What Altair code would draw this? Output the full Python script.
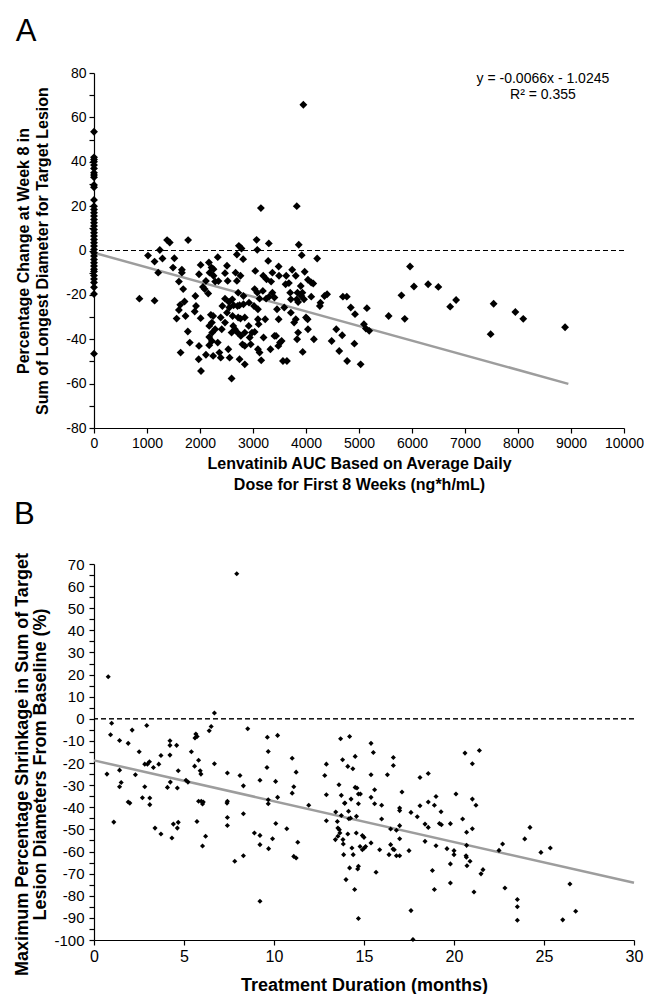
import altair as alt
import pandas as pd

# ---------------- Panel A data ----------------
a_x = [857, 1143, 1019, 1143, 1242, 1211, 1292, 1379, 1429, 1516, 1491, 1658, 1776, 1658, 1602, 1683,
       1559, 1627, 1708, 1602, 1727, 1770, 1807, 1634, 1925, 1913, 2012, 1981, 1900, 2012, 1981, 1975,
       2019, 2087, 2056, 2155, 2112, 2168, 2217, 2180, 2255, 2255, 2335, 2286, 2205, 2248, 2224, 2174,
       2230, 2174, 2224, 2174, 2112, 2248, 2335, 2286, 2391, 2410, 2366, 2391, 2348, 2472, 2509, 2522,
       2422, 2472, 2509, 2472, 2546, 2553, 2559, 2534, 2596, 2609, 2634, 2615, 2627, 2658, 2596, 2696,
       2733, 2783, 2671, 2696, 2764, 2814, 2720, 2746, 2708, 2720, 2764, 2708, 2770, 2801, 2746, 2845,
       2820, 2820, 2845, 2845, 2845, 2925, 2919, 2938, 2957, 2981, 3031, 3019, 3031, 3043, 3068, 3081,
       3081, 3093, 3124, 3093, 3106, 3093, 3124, 3155, 3186, 3193, 3199, 3230, 3248, 3255, 3298, 3286,
       3304, 3329, 3342, 3366, 3366, 3404, 3404, 3435, 3453, 3484, 3491, 3484, 3509, 3540, 3478, 3565,
       3590, 3640, 3615, 3627, 3677, 3702, 3739, 3714, 3714, 3776, 3807, 3826, 3839, 3807, 3863, 3919,
       3901, 3913, 3851, 3938, 3851, 3832, 3932, 3963, 3975, 4037, 4000, 4031, 4037, 4099, 4099, 4137,
       4149, 4211, 4261, 4273, 4348, 4398, 4484, 4571, 4627, 4683, 4696, 4770, 4776, 4845, 4913, 4925,
       5031, 5149, 5093, 5193, 5130, 3950, 3149, 3826, 5559, 5801, 5863, 5963, 6037, 6304, 6497, 6720,
       6832, 7484, 7540, 7950, 8099, 8888]
a_y = [-21.7, -22.6, -2.3, -5, 0.2, -10, -3.6, 4.7, 3.6, -3.5, -7.7, -8.7, 4.7, -10, -14, -17.4,
       -30.7, -24.5, -23, -26.8, -29.5, -36.5, -41.5, -46, -25, -20.5, -6.5, -10.7, -27.5, -30.5, -43, -49,
       -54.3, -17.4, -16.4, -19.4, -13.7, -5.4, -7.7, -10, -8.4, -11.4, -3, -14, -29, -29.5, -32.5, -34,
       -37, -39, -40.8, -42.7, -47, -47.5, -41.5, -35.5, -30.2, -35.5, -46, -48.3, -13.8, -10.2, -6.9, -13.7,
       -25, -21.7, -28, -32.5, -23.2, -25.7, -48.3, -44.5, -57.7, -22, -24.7, -29.5, -34, -35.5, -37, -1.8,
       2.1, 0.9, -10, -13.7, -11.4, -3.9, -19, -24.7, -25, -30.2, -30.7, -37, -38.5, -42.3, -49, -51.3,
       -24.2, -20.5, -30.2, -37, -43, -23.5, -34, -39.2, -42.3, -37, -36.7, -25, -17.4, -9.2, 4.8, 0.3,
       -19, -26.5, -21.7, -31, -33.2, -44.5, -46, -49.5, -18.2, -11.4, -39.2, -31, -21.7, -13, 3.2, -4.7,
       -20.8, -44.5, -14, -10, -19, -21.2, -38.5, -38.5, -26.5, -7.2, -11.4, -31, -41.5, -40.8, -43, -49.8,
       -25.7, -49.8, -15.2, -11.4, -14.7, -19, -8.7, -22, -28, -32.5, -31, -22, -19, -11.4, 2.6, -2.1,
       -16, -20.5, -23.2, -45.7, -37, -40, -19, -22, -9.6, -13.2, -30.2, -31, -35.5, -20.8, -14.4, -14.9,
       -40, -3.6, -25, -23.5, -20.5, -19.7, -40.8, -35.5, -45.3, -38.2, -20.8, -20.8, -49.8, -25.7, -42, -28.7,
       -51.3, -26, -33.2, -36.2, -35.2, 65.7, 19.1, 20, -29.5, -20.2, -30.8, -7.2, -16.2, -15.2, -16.4, -25.3,
       -22.3, -37.7, -24, -27.7, -30.8, -34.6]
# patients with AUC = 0
a_zero_y = [53.5, 42, 41, 40, 38.5, 37, 35, 34, 33, 29.5, 28.5, 22.8, 20, 18.5, 17, 15.5, 14, 12.5, 11,
            9.5, 8, 6.5, 5, 3.5, 2, 0.5, -1, -2.5, -4, -5.5, -7, -8.5, -9.5, -11.3, -12.9, -14.4, -16.6,
            -19.6, -46.5]
a_fit_slope = -0.0066
a_fit_intercept = -1.0245
a_fit_x = [0, 8950]
a_eq_lines = ["y = -0.0066x - 1.0245", "R\u00b2 = 0.355"]
a_eq_x = 8470
a_eq_y = [77.5, 70]

# ---------------- Panel B data ----------------
b_x = [7.93, 0.79, 0.98, 0.92, 0.72, 1.1, 1.42, 1.42, 1.51, 1.42, 1.9, 2.12, 2.3, 1.9, 1.99, 2.51, 2.69,
       2.82, 2.82, 2.93, 2.97, 3.08, 3.1, 3.1, 3.3, 3.39, 3.6, 3.72, 3.72, 4.08, 4.22, 4.22, 4.22, 4.24,
       4.33, 4.41, 4.59, 4.63, 4.63, 4.68, 4.68, 5.11, 5.22, 5.41, 5.61, 5.66, 5.73, 5.59, 5.81, 5.9, 5.94,
       5.81, 5.72, 5.96, 6.07, 6.03, 6.03, 6.2, 6.4, 6.51, 6.69, 6.69, 7.41, 7.41, 7.39, 7.41, 7.41, 7.82,
       8.11, 8.3, 8.3, 8.3, 8.54, 8.91, 9.22, 9.22, 9.22, 9.22, 9.63, 9.68, 9.61, 9.68, 9.68, 9.7, 9.92,
       10.09, 10.1, 10.2, 10.2, 10.71, 11.01, 11.01, 11.1, 11.1, 11.23, 11.23, 11.32, 11.93, 12.82, 12.91,
       12.91, 12.91, 13.41, 13.43, 13.52, 13.61, 13.55, 13.55, 13.63, 13.66, 13.7, 13.74, 13.74, 13.81,
       13.83, 13.85, 13.87, 13.94, 14.0, 14.1, 14.14, 14.2, 14.2, 14.25, 14.33, 14.38, 14.4, 14.51, 14.51,
       14.48, 14.57, 14.28, 14.61, 14.69, 14.8, 14.69, 15.39, 15.52, 15.39, 15.59, 15.39, 15.59, 15.98,
       15.98, 16.3, 16.63, 16.63, 17.11, 16.98, 16.98, 16.98, 16.98, 16.8, 16.48, 16.48, 16.61, 16.39, 16.8,
       16.98, 15.87, 15.39, 15.67, 14.69, 14.69, 14.65, 14.91, 15.0, 14.91, 15.02, 15.09, 14.78, 17.5,
       17.61, 17.72, 17.61, 17.96, 18.11, 18.11, 18.57, 18.57, 18.91, 19.0, 19.28, 18.39, 18.57, 19.19,
       19.3, 18.39, 19.0, 19.61, 20.0, 20.0, 19.8, 19.8, 18.8, 18.91, 19.8, 20.11, 20.48, 20.61, 21.02,
       21.41, 21.02, 21.22, 20.7, 21.02, 20.7, 20.67, 20.69, 20.72, 20.89, 21.5, 21.61, 21.11, 22.5, 22.7,
       22.83, 23.52, 23.52, 23.52, 23.93, 24.22, 24.83, 25.35, 26.04, 26.44, 26.76, 13.92, 14.16, 14.58,
       14.1, 16.68]
b_y = [65.6, 19, -2, -7.2, -25, -46.7, -9.8, -23.2, -28.8, -30.7, -11.1, -5.1, -25.3, -37.6, -38.1, -14.9,
       -35.7, -30.7, -20.5, -3, -20.5, -19.4, -35.8, -38.8, -22, -49.4, -20.5, -52.1, -16.6, -31, -9.9, -12,
       -16.4, -28.6, -53.9, -47.6, -12, -49.4, -31.3, -23.5, -46.8, -27.8, -28.6, -14.9, -8.7, -6.9, -8,
       -21.4, -18.7, -23.5, -25, -37.3, -46.4, -37.3, -37.6, -38.5, -57.5, -53.1, -5.4, -3.5, 2.6, -20.3,
       -24.5, -37.3, -38.1, -44.6, -48.2, -64.4, -25.6, -30.3, -42.9, -61.9, -4.5, -51.6, -52.7, -56.9,
       -27.8, -82.5, -8.3, -14.8, -22, -36.6, -38.4, -58.7, -54.2, -28.3, -47.3, -7.5, -35.5, -49.7, -17.8,
       -33.6, -30.7, -62.2, -62.9, -24.1, -55.8, -39.1, -25.6, -20.5, -34.3, -46.1, -54.6, -42.1, -46.4,
       -29.8, -53.1, -49.4, -50.1, -51.6, -9, -34.6, -43.7, -18.5, -54.6, -56.6, -61.4, -38.1, -72.7, -21.5,
       -41.8, -8, -67.4, -44.9, -58.4, -22.6, -61.4, -31, -17, -77.2, -51.6, -36.3, -31.3, -34, -34, -38.4,
       -11.1, -15.2, -25.3, -32.1, -35.5, -38.4, -39.1, -45.3, -25.3, -17.5, -21.1, -33.1, -40.3, -41.5,
       -48.3, -54.2, -50.4, -49.8, -56.9, -58.9, -61.4, -61.9, -61.9, -59.2, -56.1, -69.4, -90.3, -66.7,
       -67.9, -52.8, -53.6, -59.2, -58.4, -57.7, -57.7, -59.6, -86.7, -99.8, -42.3, -44.3, -39.3, -26.5,
       -24.7, -37.6, -39.1, -35.1, -42, -47.6, -49.1, -47.3, -47.9, -55.4, -57.4, -58.7, -59.6, -61.4,
       -65.6, -74.2, -68.6, -77.2, -47.4, -34, -45.3, -15.5, -20.3, -14.3, -36.3, -39.1, -51.3, -49.7,
       -57.2, -61.9, -62.6, -66.4, -64.4, -70.1, -68.2, -78.3, -59.5, -56.6, -76.5, -81.7, -85, -91.1,
       -54.3, -49.1, -60.4, -58.4, -90.9, -74.7, -87, -38.2, -45.2, -44.1, -52.1, -59.2]
b_fit_slope = -1.845
b_fit_intercept = -18.8
b_fit_x = [0, 30]

# tick positions / labels
a_x_ticks = list(range(0, 10001, 1000))
a_y_ticks = list(range(-80, 81, 10))
b_x_ticks = list(range(0, 31, 5))
b_y_ticks = list(range(-100, 71, 5))

FONT = "Liberation Sans"

# ---------------- build panel A ----------------
df_a = pd.DataFrame({"auc": a_x + [0] * len(a_zero_y), "chg": a_y + a_zero_y})
df_a_fit = pd.DataFrame({"auc": a_fit_x, "chg": [a_fit_intercept + a_fit_slope * v for v in a_fit_x]})
df_a_eq = pd.DataFrame({"auc": [a_eq_x, a_eq_x], "chg": a_eq_y, "t": a_eq_lines})

xa = alt.X("auc:Q", scale=alt.Scale(domain=[0, 10000], nice=False, zero=False),
           axis=alt.Axis(values=a_x_ticks, tickCount=200, labelExpr="'' + datum.value",
                         labelFontSize=14, titleFontSize=16,
                         title=["Lenvatinib AUC Based on Average Daily", "Dose for First 8 Weeks (ng*h/mL)"],
                         titlePadding=5, titleLineHeight=21, labelPadding=3,
                         labelOverlap=False, labelFlush=False))
ya = alt.Y("chg:Q", scale=alt.Scale(domain=[-80, 80], nice=False, zero=False),
           axis=alt.Axis(values=a_y_ticks, tickCount=200,
                         labelExpr="datum.value % 20 == 0 ? '' + datum.value : ''",
                         labelFontSize=14, titleFontSize=16, labelPadding=3,
                         labelOverlap=False, labelFlush=False,
                         title=["Percentage Change at Week 8 in", "Sum of Longest Diameter for Target Lesion"],
                         titlePadding=15, titleLineHeight=19))

pts_a = alt.Chart(df_a).mark_point(shape="diamond", filled=True, color="black", size=62, opacity=1).encode(x=xa, y=ya)
zero_a = alt.Chart(df_a_fit).mark_rule(color="black", strokeDash=[5, 3], strokeWidth=1).encode(y=alt.datum(0))
fit_a = alt.Chart(df_a_fit).mark_line(color="#9d9d9d", strokeWidth=2.5).encode(x="auc:Q", y="chg:Q")
eq = alt.Chart(df_a_eq).mark_text(fontSize=14, font=FONT, align="center", baseline="middle",
                                   color="black").encode(x="auc:Q", y="chg:Q", text="t:N")

panel_a = alt.layer(zero_a, fit_a, pts_a, eq).properties(
    width=530, height=355,
    title=alt.TitleParams("A", anchor="start", frame="bounds", fontSize=31, fontWeight="normal",
                          font=FONT, offset=18, color="black"))

# ---------------- build panel B ----------------
df_b = pd.DataFrame({"months": b_x, "shrink": b_y})
df_b_fit = pd.DataFrame({"months": b_fit_x, "shrink": [b_fit_intercept + b_fit_slope * v for v in b_fit_x]})

xb = alt.X("months:Q", scale=alt.Scale(domain=[0, 30], nice=False, zero=False),
           axis=alt.Axis(values=b_x_ticks, tickCount=200, labelExpr="'' + datum.value",
                         labelFontSize=16, titleFontSize=18,
                         title="Treatment Duration (months)", titlePadding=12, labelPadding=3,
                         labelOverlap=False, labelFlush=False))
yb = alt.Y("shrink:Q", scale=alt.Scale(domain=[-100, 70], nice=False, zero=False),
           axis=alt.Axis(values=b_y_ticks, tickCount=200,
                         labelExpr="abs(datum.value) % 10 < 0.5 ? '' + datum.value : ''",
                         labelFontSize=15, titleFontSize=18, labelPadding=5,
                         labelOverlap=False, labelFlush=False,
                         title=["Maximum Percentage Shrinkage in Sum of Target", "Lesion Diameters From Baseline (%)"],
                         titlePadding=4, titleLineHeight=18, titleY=200))

pts_b = alt.Chart(df_b).mark_point(shape="diamond", filled=True, color="black", size=26, opacity=1).encode(x=xb, y=yb)
zero_b = alt.Chart(df_b_fit).mark_rule(color="black", strokeDash=[5, 3], strokeWidth=1).encode(y=alt.datum(0))
fit_b = alt.Chart(df_b_fit).mark_line(color="#9d9d9d", strokeWidth=2.5).encode(x="months:Q", y="shrink:Q")

panel_b = alt.layer(zero_b, fit_b, pts_b).properties(
    width=540, height=376,
    title=alt.TitleParams("B", anchor="start", frame="bounds", fontSize=31, fontWeight="normal",
                          font=FONT, offset=22, color="black"))

chart = alt.vconcat(panel_a, panel_b, spacing=6).properties(
    padding={"left": 5, "top": 8, "right": 0, "bottom": 0}
).configure_view(stroke=None).configure_axis(
    grid=False, domainColor="black", tickColor="black", labelColor="black", titleColor="black",
    labelFont=FONT, titleFont=FONT, titleFontWeight="bold", tickSize=5, domainWidth=1.2, tickWidth=1.2
)

chart.save("out.html", embed_options={"renderer": "svg", "actions": False})
